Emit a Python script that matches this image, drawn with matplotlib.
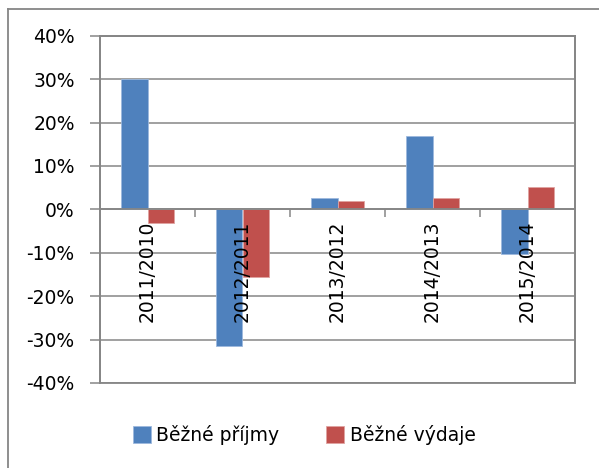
import matplotlib
matplotlib.use("Agg")
import matplotlib.pyplot as plt
from matplotlib.lines import Line2D
from matplotlib.patches import Rectangle
from matplotlib.ticker import PercentFormatter

# data
periods = ["2011/2010", "2012/2011", "2013/2012", "2014/2013", "2015/2014"]
prijmy = [30.1, -31.5, 2.5, 17.0, -10.2]   # Běžné příjmy, %
vydaje = [-3.2, -15.6, 2.0, 2.5, 5.2]      # Běžné výdaje, %
series_names = ["Běžné příjmy", "Běžné výdaje"]

blue = "#4F81BD"
red = "#C0504D"
gray = "#868686"

plt.rcParams['font.family'] = ['DejaVu Sans']
plt.rcParams['font.size'] = 13.5
plt.rcParams['axes.unicode_minus'] = False

W, H = 599, 468
fig = plt.figure(figsize=(W / 100, H / 100), dpi=100)
left, right, top, bottom = 100, 575, 35.7, 383
ax = fig.add_axes([left / W, 1 - bottom / H, (right - left) / W, (bottom - top) / H])

x = list(range(len(periods)))
bw = 0.28
ax.bar([i - bw / 2 for i in x], prijmy, bw, color=blue, edgecolor="#9DB9DD",
       linewidth=0.6, label=series_names[0], zorder=2)
ax.bar([i + bw / 2 for i in x], vydaje, bw, color=red, edgecolor="#E0A3A1",
       linewidth=0.6, label=series_names[1], zorder=2)

ax.set_xlim(-0.5, len(periods) - 0.5)
ax.set_ylim(-40, 40)
ax.set_yticks(range(-40, 41, 10))
ax.yaxis.set_major_formatter(PercentFormatter(decimals=0))
ax.grid(axis="y", color=gray, linewidth=1.1)
ax.yaxis.set_zorder(0.5)   # gridlines behind the bars
ax.tick_params(axis="y", length=7.2, width=1.1, color=gray, pad=11)

# category axis crosses at zero, labels drawn over the bars
ax.spines["bottom"].set_position(("data", 0))
ax.spines["bottom"].set_zorder(2.5)
ax.xaxis.set_zorder(5)
ax.set_xticks(x, periods, rotation=90)
ax.set_xticks([i + 0.5 for i in x[:-1]], minor=True)
ax.tick_params(axis="x", which="major", length=0, pad=8)
ax.tick_params(axis="x", which="minor", length=5.5, width=1.1, color=gray, direction="out")
for s in ax.spines.values():
    s.set_color(gray)
    s.set_linewidth(1.3)
ax.add_patch(Rectangle((0, 0), 1, 1, transform=ax.transAxes, fill=False,
                       ec=gray, lw=1.3, clip_on=False, zorder=4))

fig.legend(loc="center", bbox_to_anchor=(0.508, 0.0705), ncol=2, frameon=False,
           handlelength=0.95, handleheight=0.95, handletextpad=0.3,
           columnspacing=2.5)

# outer chart frame (cut off at right and bottom)
fig.add_artist(Line2D([7.5 / W, 7.5 / W], [0, 1 - 9 / H], color=gray, lw=1.3))
fig.add_artist(Line2D([7.5 / W, 1], [1 - 9 / H, 1 - 9 / H], color=gray, lw=1.3))

fig.savefig("out.png", dpi=100)
